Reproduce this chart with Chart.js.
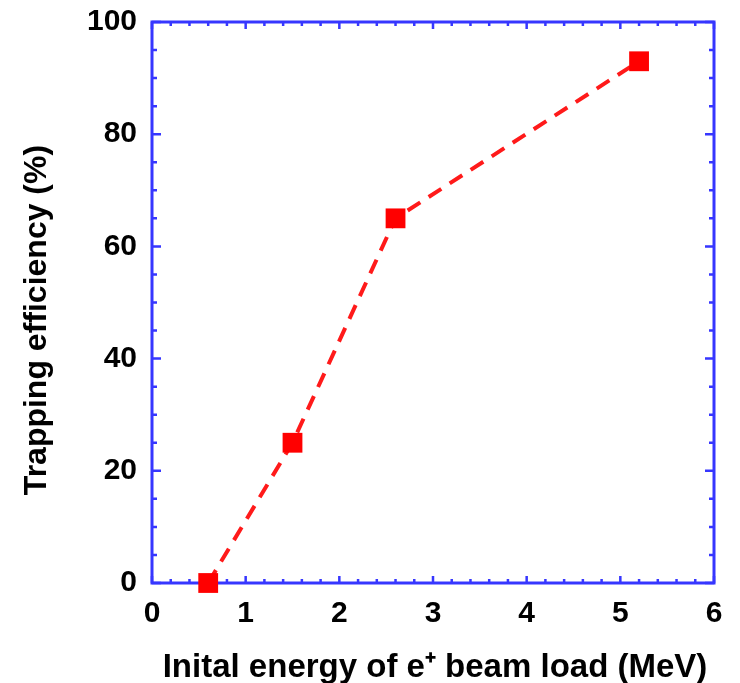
<!DOCTYPE html>
<html>
<head>
<meta charset="utf-8">
<script src="https://cdn.jsdelivr.net/npm/chart.js@4/dist/chart.umd.min.js"></script>
<style>
html,body{margin:0;padding:0;background:#fff;}
#wrap{width:740px;height:683px;position:relative;}
</style>
</head>
<body>
<div id="wrap"><canvas id="c" width="740" height="683"></canvas></div>
<script>
const energies = [0.6, 1.5, 2.6, 5.2];
const efficiency = [0, 25, 65, 93];
const xTicks = [0, 1, 2, 3, 4, 5, 6];
const yTicks = [0, 20, 40, 60, 80, 100];
const xTitle = 'Inital energy of e\u207A beam load (MeV)';
const yTitle = 'Trapping efficiency (%)';

const AXIS = '#3636ff';
const FONT = '"Liberation Sans", Arial, Helvetica, sans-serif';

const points = energies.map((x, i) => ({x: x, y: efficiency[i]}));

const frame = {
  id: 'frame',
  beforeDatasetsDraw(chart) {
    const {ctx, chartArea: a, scales: {x, y}} = chart;
    ctx.save();
    ctx.strokeStyle = AXIS;
    ctx.lineWidth = 2.5;
    for (let i = 0; i <= 30; i++) {
      const v = i * 0.2;
      const px = x.getPixelForValue(v);
      const len = (i % 5 === 0) ? 7 : 4;
      ctx.beginPath();
      ctx.moveTo(px, a.bottom); ctx.lineTo(px, a.bottom - len);
      ctx.moveTo(px, a.top); ctx.lineTo(px, a.top + len);
      ctx.stroke();
    }
    for (let i = 0; i <= 20; i++) {
      const v = i * 5;
      const py = y.getPixelForValue(v);
      const len = (i % 4 === 0) ? 9 : 5;
      ctx.beginPath();
      ctx.moveTo(a.left, py); ctx.lineTo(a.left + len, py);
      ctx.moveTo(a.right, py); ctx.lineTo(a.right - len, py);
      ctx.stroke();
    }
    ctx.lineWidth = 3;
    ctx.strokeRect(a.left, a.top, a.right - a.left, a.bottom - a.top);
    ctx.restore();
  },
  afterDraw(chart) {
    const {ctx, chartArea: a} = chart;
    ctx.save();
    ctx.fillStyle = '#000';
    ctx.font = 'bold 33px ' + FONT;
    ctx.textAlign = 'center';
    ctx.textBaseline = 'alphabetic';
    ctx.fillText(xTitle, (a.left + a.right) / 2 + 2, 677);
    ctx.font = 'bold 32px ' + FONT;
    ctx.translate(46, 320);
    ctx.rotate(-Math.PI / 2);
    ctx.fillText(yTitle, 0, 0);
    ctx.restore();
  }
};

new Chart(document.getElementById('c'), {
  type: 'scatter',
  data: {
    datasets: [{
      data: points,
      showLine: true,
      borderColor: '#ff1a1a',
      borderWidth: 4,
      borderDash: [15, 10],
      pointStyle: 'rect',
      pointRadius: 14,
      pointBackgroundColor: '#ff0000',
      pointBorderColor: '#ff0000',
      pointBorderWidth: 0,
      clip: false
    }]
  },
  options: {
    responsive: false,
    animation: false,
    events: [],
    layout: {padding: {left: 0, right: 26, top: 22, bottom: 0}},
    plugins: {legend: {display: false}, tooltip: {enabled: false}},
    scales: {
      x: {
        type: 'linear', min: 0, max: 6,
        afterBuildTicks: s => { s.ticks = xTicks.map(v => ({value: v})); },
        afterFit: s => { s.height = 100; s.paddingLeft = 0; s.paddingRight = 0; },
        grid: {display: false, drawTicks: false},
        border: {display: false},
        ticks: {color: '#000', font: {family: FONT, size: 30, weight: 'bold'}, padding: 13, maxRotation: 0}
      },
      y: {
        type: 'linear', min: 0, max: 100,
        afterBuildTicks: s => { s.ticks = yTicks.map(v => ({value: v})); },
        afterFit: s => { s.width = 152; s.paddingTop = 0; s.paddingBottom = 0; },
        grid: {display: false, drawTicks: false},
        border: {display: false},
        ticks: {color: '#000', font: {family: FONT, size: 30, weight: 'bold'}, padding: 15}
      }
    }
  },
  plugins: [frame]
});
</script>
</body>
</html>
